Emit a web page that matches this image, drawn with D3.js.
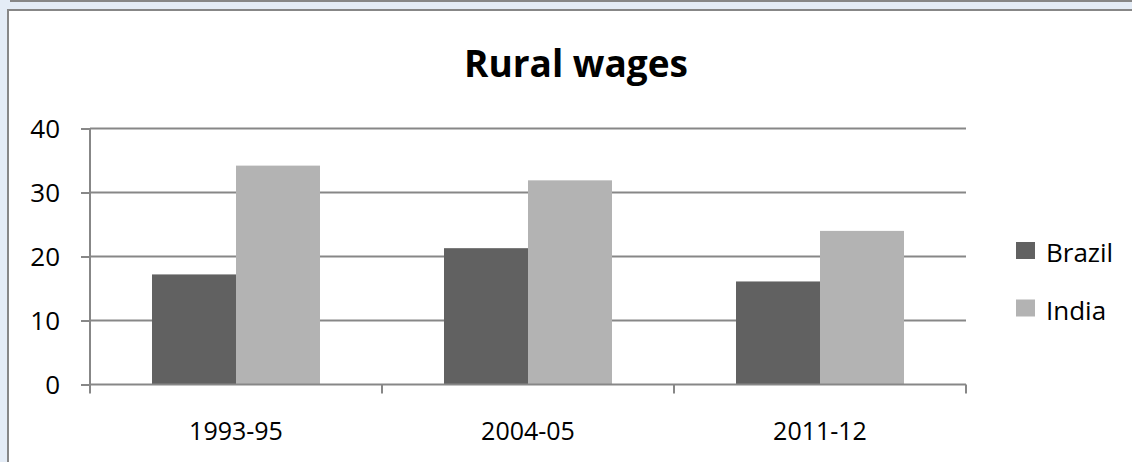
<!DOCTYPE html>
<html>
<head>
<meta charset="utf-8">
<script src="https://cdn.jsdelivr.net/npm/d3@7"></script>
<style>
  html, body { margin: 0; padding: 0; background: #e4ecf6; }
  svg { display: block; }
</style>
</head>
<body>
<svg id="chart" width="1132" height="462"></svg>
<script>
const title = "Rural wages";
const categories = ["1993-95", "2004-05", "2011-12"];
const seriesNames = ["Brazil", "India"];
const brazil = [17.2, 21.3, 16.1];
const india = [34.2, 31.9, 24.0];
const yTicks = [0, 10, 20, 30, 40];
const colors = ["#616161", "#b3b3b3"];

const seriesValues = [brazil, india];
const data = categories.map((c, i) => ({
  cat: c,
  vals: seriesNames.map((s, j) => ({ series: s, value: seriesValues[j][i], color: colors[j] }))
}));

const svg = d3.select("#chart");
const W = 1132, H = 462;
const font = "'Open Sans', sans-serif";
const axisColor = "#878787";

// window background and frame
svg.append("rect").attr("x", 0).attr("y", 0).attr("width", W).attr("height", H).attr("fill", "#e4ecf6");
svg.append("line").attr("x1", 10).attr("x2", W).attr("y1", 1).attr("y2", 1)
  .attr("stroke", axisColor).attr("stroke-width", 2);
svg.append("rect").attr("x", 8).attr("y", 10).attr("width", W + 10).attr("height", H + 10)
  .attr("fill", "#ffffff").attr("stroke", axisColor).attr("stroke-width", 2);

const plot = { left: 90, right: 966, top: 128.5, bottom: 384.5 };

const x = d3.scaleBand().domain(categories).range([plot.left, plot.right])
  .paddingInner(0.4247).paddingOuter(0.4247 / 2);
const xs = d3.scaleBand().domain(seriesNames).range([0, x.bandwidth()]).padding(0);
const y = d3.scaleLinear().domain([0, 40]).range([plot.bottom, plot.top]);

// gridlines
svg.append("g").selectAll("line").data(yTicks.filter(t => t > 0)).join("line")
  .attr("x1", plot.left).attr("x2", plot.right)
  .attr("y1", d => y(d)).attr("y2", d => y(d))
  .attr("stroke", axisColor).attr("stroke-width", 2);

// bars
const groups = svg.append("g").selectAll("g").data(data).join("g")
  .attr("transform", d => `translate(${x(d.cat)},0)`);
groups.selectAll("rect").data(d => d.vals).join("rect")
  .attr("x", d => xs(d.series))
  .attr("width", xs.bandwidth())
  .attr("y", d => y(d.value))
  .attr("height", d => y(0) - y(d.value))
  .attr("fill", d => d.color);

// y axis
const yAxis = d3.axisLeft(y).tickValues(yTicks).tickSize(9).tickPadding(21).tickFormat(d3.format("d"));
const gy = svg.append("g").attr("transform", `translate(${plot.left},0)`).call(yAxis);
gy.select(".domain").remove();
gy.selectAll(".tick line").attr("stroke", axisColor).attr("stroke-width", 2);
gy.selectAll(".tick text").attr("font-family", font).attr("font-size", 26).attr("fill", "#000")
  .attr("dy", "0.36em");
svg.append("line").attr("x1", plot.left).attr("x2", plot.left)
  .attr("y1", plot.top).attr("y2", plot.bottom + 9)
  .attr("stroke", axisColor).attr("stroke-width", 2);

// x axis
svg.append("line").attr("x1", plot.left).attr("x2", plot.right)
  .attr("y1", plot.bottom).attr("y2", plot.bottom)
  .attr("stroke", axisColor).attr("stroke-width", 2);
const step = x.step();
const boundaries = categories.map((c, i) => x(c) - x.paddingInner() * step / 2).concat([plot.right]);
svg.append("g").selectAll("line").data(boundaries.slice(1)).join("line")
  .attr("x1", d => d).attr("x2", d => d)
  .attr("y1", plot.bottom).attr("y2", plot.bottom + 9)
  .attr("stroke", axisColor).attr("stroke-width", 2);
svg.append("g").selectAll("text").data(categories).join("text")
  .attr("x", d => x(d) + x.bandwidth() / 2)
  .attr("y", 440)
  .attr("text-anchor", "middle")
  .attr("font-family", font).attr("font-size", 25).attr("fill", "#000")
  .text(d => d);

// title
svg.append("text").attr("x", 576).attr("y", 77).attr("text-anchor", "middle")
  .attr("font-family", font).attr("font-weight", "bold").attr("font-size", 37).attr("fill", "#000")
  .text(title);

// legend
const legend = svg.append("g").selectAll("g").data(seriesNames).join("g")
  .attr("transform", (d, i) => `translate(1016, ${242 + i * 57.5})`);
legend.append("rect").attr("x", 0).attr("y", 0).attr("width", 19).attr("height", 17)
  .attr("fill", (d, i) => colors[i]);
legend.append("text").attr("x", 30).attr("y", 20)
  .attr("font-family", font).attr("font-size", 26).attr("fill", "#000")
  .text(d => d);
</script>
</body>
</html>
